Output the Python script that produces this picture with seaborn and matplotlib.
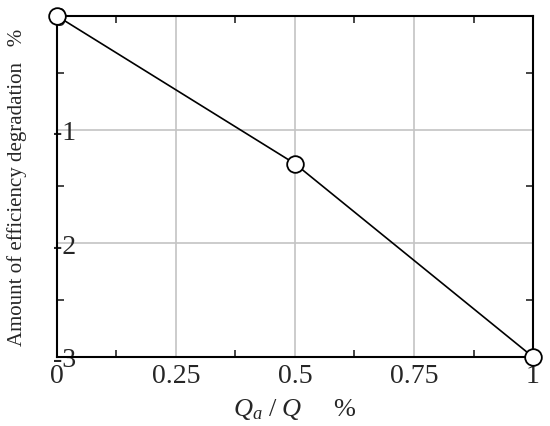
import seaborn as sns
import pandas as pd
import matplotlib.pyplot as plt

# values
ratio = [0, 0.5, 1]
degradation = [0, -1.3, -3]
x_ticks = [0, 0.25, 0.5, 0.75, 1]
x_labels = ['0', '0.25', '0.5', '0.75', '1']
y_ticks = [0, -1, -2, -3]
y_labels = ['0', '-1', '-2', '-3']

df = pd.DataFrame({'ratio': ratio, 'degradation': degradation})

sns.set_style('white')
plt.rcParams['font.family'] = ['Liberation Serif', 'DejaVu Serif']
plt.rcParams['mathtext.fontset'] = 'custom'
plt.rcParams['mathtext.it'] = 'Liberation Serif:italic'
plt.rcParams['mathtext.rm'] = 'Liberation Serif'

fig = plt.figure(figsize=(5.5, 4.27), dpi=100)
ax = fig.add_axes([0.1036, 0.1616, 0.8655, 0.7986])

ax = sns.lineplot(x='ratio', y='degradation', data=df, ax=ax, color='black',
                  linewidth=1.2, marker='o', markersize=12,
                  markerfacecolor='white', markeredgecolor='black',
                  markeredgewidth=1.3, clip_on=False, zorder=5)

ax.set_xlim(0, 1)
ax.set_ylim(-3, 0)
ax.set_xticks(x_ticks)
ax.set_xticklabels(x_labels, fontsize=20)
ax.set_yticks(y_ticks)
ax.set_yticklabels(y_labels, fontsize=20, ha='left')
ax.set_xticks([0.125, 0.375, 0.625, 0.875], minor=True)
ax.set_yticks([-0.5, -1.5, -2.5], minor=True)
ax.tick_params(axis='x', which='major', length=0, pad=4)
ax.tick_params(axis='y', which='major', length=0, pad=3)
ax.tick_params(which='minor', direction='in', length=5, width=1.2,
               top=True, right=True, bottom=True, left=True)

ax.grid(True, which='major', color='#c4c4c4', linewidth=1.2)
for s in ax.spines.values():
    s.set_color('black')
    s.set_linewidth(1.5)

ax.set_xlabel(r'$Q_a\ /\ Q$     %', fontsize=19, labelpad=6)
ax.set_ylabel('Amount of efficiency degradation   %', fontsize=15, labelpad=18)

fig.savefig('out.png', dpi=100)
